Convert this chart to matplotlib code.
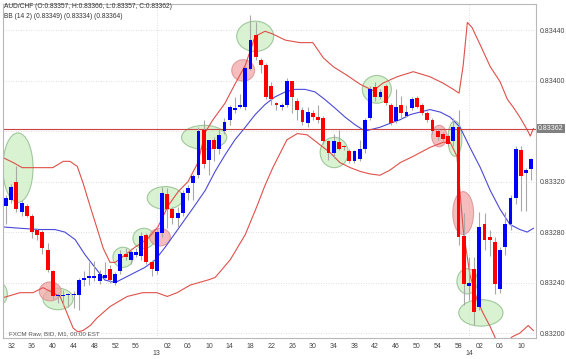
import matplotlib.pyplot as plt
import matplotlib.transforms as mtransforms
from matplotlib.patches import Ellipse
import numpy as np

plt.rcParams['font.family'] = ['Liberation Sans', 'DejaVu Sans']

# AUD/CHF M1 candles, 12:31 .. 14:12
opens = [0.83301, 0.83305, 0.83320, 0.83296, 0.83301, 0.83293, 0.83282, 0.83280, 0.83266, 0.83249,
         0.83229, 0.83229, 0.83230, 0.83230, 0.83230, 0.83242, 0.83244, 0.83244, 0.83241, 0.83244,
         0.83251, 0.83240, 0.83249, 0.83263, 0.83258, 0.83262, 0.83261, 0.83278, 0.83256, 0.83249,
         0.83279, 0.83310, 0.83298, 0.83291, 0.83295, 0.83311, 0.83319, 0.83325, 0.83361, 0.83337,
         0.83353, 0.83346, 0.83360, 0.83369, 0.83377, 0.83379, 0.83379, 0.83409, 0.83436, 0.83416,
         0.83412, 0.83396, 0.83382, 0.83379, 0.83381, 0.83400, 0.83384, 0.83377, 0.83366, 0.83374,
         0.83371, 0.83370, 0.83352, 0.83343, 0.83351, 0.83348, 0.83344, 0.83336, 0.83338, 0.83346,
         0.83370, 0.83395, 0.83387, 0.83396, 0.83381, 0.83368, 0.83381, 0.83372, 0.83378, 0.83386,
         0.83381, 0.83374, 0.83369, 0.83360, 0.83358, 0.83356, 0.83352, 0.83363, 0.83277, 0.83237,
         0.83251, 0.83221, 0.83286, 0.83276, 0.83272, 0.83235, 0.83268, 0.83286, 0.83307, 0.83345,
         0.83327, 0.83330]
highs = [0.83309, 0.83318, 0.83332, 0.83305, 0.83302, 0.83294, 0.83283, 0.83282, 0.83271, 0.83250,
         0.83232, 0.83234, 0.83232, 0.83233, 0.83244, 0.83249, 0.83256, 0.83257, 0.83250, 0.83256,
         0.83254, 0.83248, 0.83266, 0.83267, 0.83267, 0.83267, 0.83280, 0.83279, 0.83258, 0.83284,
         0.83316, 0.83315, 0.83300, 0.83300, 0.83313, 0.83317, 0.83326, 0.83363, 0.83369, 0.83353,
         0.83355, 0.83362, 0.83370, 0.83381, 0.83387, 0.83389, 0.83412, 0.83452, 0.83446, 0.83418,
         0.83414, 0.83399, 0.83383, 0.83382, 0.83402, 0.83400, 0.83386, 0.83379, 0.83379, 0.83377,
         0.83381, 0.83372, 0.83353, 0.83358, 0.83361, 0.83349, 0.83346, 0.83345, 0.83353, 0.83370,
         0.83396, 0.83399, 0.83393, 0.83397, 0.83382, 0.83393, 0.83388, 0.83381, 0.83387, 0.83388,
         0.83382, 0.83376, 0.83370, 0.83362, 0.83359, 0.83358, 0.83370, 0.83377, 0.83295, 0.83260,
         0.83260, 0.83296, 0.83295, 0.83282, 0.83276, 0.83268, 0.83296, 0.83309, 0.83348, 0.83348,
         0.83331, 0.83339]
lows = [0.83286, 0.83303, 0.83296, 0.83293, 0.83292, 0.83275, 0.83274, 0.83263, 0.83248, 0.83227,
        0.83224, 0.83222, 0.83221, 0.83220, 0.83218, 0.83237, 0.83238, 0.83241, 0.83239, 0.83243,
        0.83240, 0.83238, 0.83247, 0.83258, 0.83255, 0.83260, 0.83258, 0.83255, 0.83245, 0.83247,
        0.83276, 0.83283, 0.83286, 0.83284, 0.83293, 0.83305, 0.83305, 0.83323, 0.83331, 0.83325,
        0.83336, 0.83342, 0.83358, 0.83365, 0.83374, 0.83378, 0.83377, 0.83408, 0.83416, 0.83406,
        0.83385, 0.83381, 0.83377, 0.83377, 0.83379, 0.83374, 0.83369, 0.83365, 0.83363, 0.83369,
        0.83366, 0.83350, 0.83337, 0.83339, 0.83345, 0.83345, 0.83335, 0.83335, 0.83336, 0.83343,
        0.83369, 0.83384, 0.83385, 0.83381, 0.83365, 0.83366, 0.83370, 0.83371, 0.83377, 0.83378,
        0.83373, 0.83367, 0.83358, 0.83353, 0.83351, 0.83348, 0.83348, 0.83270, 0.83222, 0.83226,
        0.83206, 0.83218, 0.83266, 0.83261, 0.83231, 0.83232, 0.83262, 0.83282, 0.83302, 0.83297,
        0.83297, 0.83321]
closes = [0.83307, 0.83316, 0.83298, 0.83303, 0.83293, 0.83280, 0.83278, 0.83267, 0.83250, 0.83229,
          0.83230, 0.83230, 0.83231, 0.83231, 0.83242, 0.83244, 0.83245, 0.83245, 0.83247, 0.83246,
          0.83242, 0.83247, 0.83263, 0.83260, 0.83264, 0.83264, 0.83277, 0.83256, 0.83251, 0.83280,
          0.83311, 0.83298, 0.83291, 0.83295, 0.83311, 0.83315, 0.83324, 0.83360, 0.83334, 0.83353,
          0.83346, 0.83357, 0.83367, 0.83379, 0.83378, 0.83381, 0.83410, 0.83432, 0.83419, 0.83412,
          0.83387, 0.83385, 0.83381, 0.83381, 0.83400, 0.83387, 0.83377, 0.83367, 0.83375, 0.83371,
          0.83369, 0.83352, 0.83343, 0.83352, 0.83346, 0.83347, 0.83336, 0.83344, 0.83346, 0.83369,
          0.83393, 0.83387, 0.83391, 0.83382, 0.83366, 0.83379, 0.83374, 0.83375, 0.83385, 0.83379,
          0.83374, 0.83369, 0.83360, 0.83355, 0.83354, 0.83350, 0.83363, 0.83276, 0.83239, 0.83240,
          0.83217, 0.83284, 0.83274, 0.83274, 0.83239, 0.83266, 0.83286, 0.83307, 0.83346, 0.83324,
          0.83329, 0.83338]

# Bollinger bands (14, 2) at candle positions
mid_t = [-0.4, 2.7, 6.5, 9.4, 11.3, 13.3, 15.2, 17.1, 19.0, 21.0, 22.9, 24.8, 26.7, 28.7, 30.6,
         32.5, 34.4, 36.3, 38.3, 40.2, 42.1, 44.0, 46.0, 47.9, 49.8, 51.7, 53.7, 55.6, 57.5, 59.4,
         61.3, 63.3, 65.2, 67.1, 69.0, 70.0, 71.9, 73.8, 75.8, 77.7, 79.6, 81.5, 83.5, 85.4, 87.3,
         89.2, 91.2, 93.1, 95.0, 96.9, 98.8, 100.2, 101.4]
mid_v = [0.83284, 0.83283, 0.83282, 0.83282, 0.83280, 0.83274, 0.83262, 0.83252, 0.83242, 0.83240,
         0.83244, 0.83248, 0.83252, 0.83258, 0.83268, 0.83279, 0.83290, 0.83301, 0.83313, 0.83328,
         0.83341, 0.83353, 0.83363, 0.83373, 0.83381, 0.83387, 0.83391, 0.83393, 0.83393, 0.83391,
         0.83385, 0.83378, 0.83371, 0.83365, 0.83360, 0.83361, 0.83363, 0.83366, 0.83369, 0.83373,
         0.83375, 0.83377, 0.83375, 0.83371, 0.83363, 0.83347, 0.83331, 0.83313, 0.83298, 0.83286,
         0.83282, 0.83280, 0.83283]
up_t = [-0.6, 1.4, 3.1, 5.6, 9.0, 11.0, 12.3, 13.7, 14.8, 16.2, 17.5, 18.7, 20.0, 21.0, 22.3,
        24.8, 27.3, 29.2, 31.2, 33.1, 35.0, 36.9, 38.3, 39.8, 42.1, 44.0, 46.0, 47.9, 49.8, 51.2,
        53.7, 56.5, 59.0, 61.0, 62.9, 65.6, 68.1, 70.6, 72.5, 75.2, 78.3, 81.5, 84.0, 86.0, 87.1,
        87.9, 88.7, 89.6, 91.2, 93.1, 95.0, 96.4, 97.5, 98.8, 100.2, 100.8, 101.4]
up_v = [0.83339, 0.83335, 0.83331, 0.83331, 0.83331, 0.83336, 0.83336, 0.83332, 0.83319, 0.83300,
        0.83283, 0.83267, 0.83256, 0.83256, 0.83260, 0.83268, 0.83275, 0.83284, 0.83301, 0.83312,
        0.83320, 0.83335, 0.83359, 0.83369, 0.83382, 0.83397, 0.83412, 0.83435, 0.83439, 0.83437,
        0.83432, 0.83430, 0.83430, 0.83418, 0.83411, 0.83404, 0.83397, 0.83392, 0.83398, 0.83403,
        0.83407, 0.83403, 0.83398, 0.83393, 0.83390, 0.83412, 0.83446, 0.83442, 0.83428, 0.83411,
        0.83399, 0.83385, 0.83379, 0.83371, 0.83361, 0.83356, 0.83362]
low_t = [-0.6, 2.7, 5.2, 7.1, 9.0, 10.4, 11.7, 12.9, 13.8, 14.8, 16.2, 17.5, 20.0, 23.3, 26.3,
         29.0, 31.0, 32.9, 35.4, 38.8, 40.2, 43.1, 46.0, 48.3, 49.8, 51.3, 54.0, 56.0, 57.9, 60.4,
         62.3, 64.2, 66.2, 68.1, 70.0, 71.9, 73.8, 75.8, 78.3, 81.5, 84.0, 85.4, 86.7, 87.9, 89.2,
         90.6, 91.7, 93.1, 94.2, 96.0, 97.3, 98.8, 100.4, 101.4]
low_v = [0.83228, 0.83232, 0.83232, 0.83236, 0.83232, 0.83229, 0.83216, 0.83204, 0.83201, 0.83202,
         0.83206, 0.83212, 0.83221, 0.83229, 0.83232, 0.83232, 0.83229, 0.83232, 0.83238, 0.83242,
         0.83244, 0.83258, 0.83278, 0.83301, 0.83317, 0.83331, 0.83353, 0.83358, 0.83357, 0.83349,
         0.83343, 0.83335, 0.83331, 0.83328, 0.83326, 0.83325, 0.83329, 0.83335, 0.83340, 0.83347,
         0.83351, 0.83351, 0.83340, 0.83282, 0.83246, 0.83226, 0.83216, 0.83205, 0.83195, 0.83191,
         0.83197, 0.83200, 0.83206, 0.83202]

price_line = 0.83362
yticks = [0.83200, 0.83240, 0.83280, 0.83320, 0.83360, 0.83400, 0.83440]
tick_idx = [1, 5, 9, 13, 17, 21, 25, 31, 35, 39, 43, 47, 51, 55, 59, 63, 67, 71, 75, 79, 83, 87, 91, 95, 99]
tick_labels = ['32', '36', '40', '44', '48', '52', '56', '02', '06', '10', '14', '18', '22', '26', '30',
               '34', '38', '42', '46', '50', '54', '58', '02', '06', '10']
hour_idx = [29, 89]
hour_labels = ['13', '14']

# marker ellipses: (x, y, width, height, kind)
marks = [(2.3, 0.83331, 5.8, 0.00055, 'g'), (-1.7, 0.83231, 3.9, 0.00019, 'g'),
         (10.0, 0.83227, 5.8, 0.00017, 'g'), (8.5, 0.83233, 4.2, 0.00015, 'r'),
         (22.5, 0.83260, 3.9, 0.00016, 'g'), (26.5, 0.83275, 4.2, 0.00016, 'g'),
         (29.6, 0.83276, 4.0, 0.00014, 'r'), (30.6, 0.83307, 6.9, 0.00018, 'g'),
         (38.1, 0.83355, 8.7, 0.00019, 'g'), (45.6, 0.83408, 4.4, 0.00017, 'r'),
         (47.9, 0.83435, 7.1, 0.00024, 'g'), (63.1, 0.83343, 5.4, 0.00024, 'g'),
         (71.3, 0.83393, 5.6, 0.00022, 'g'), (83.3, 0.83356, 2.9, 0.00017, 'r'),
         (86.3, 0.83354, 2.7, 0.00028, 'g'), (87.9, 0.83295, 4.0, 0.00034, 'r'),
         (88.7, 0.83241, 4.0, 0.00020, 'g'), (91.3, 0.83216, 8.5, 0.00021, 'g')]

W, H = 566, 359
fig = plt.figure(figsize=(W / 100, H / 100), dpi=100)
ax = fig.add_axes([3 / W, 21 / H, 533 / W, 334 / H])

o = np.array(opens)
c = np.array(closes)
x = np.arange(len(o))
up = c >= o

# grid
for yv in yticks:
    ax.axhline(yv, color='#d4d4d4', lw=0.6, ls=(0, (1, 2)), zorder=0)
for hi in hour_idx:
    ax.axvline(hi, color='#d4d4d4', lw=0.6, ls=(0, (1, 2)), zorder=0)

# ellipses
for ex, ey, ew, eh, kind in marks:
    if kind == 'g':
        fc, ec = '#cdeec4', '#86b882'
    else:
        fc, ec = '#f2a7a7', '#d98a8a'
    ax.add_patch(Ellipse((ex, ey), ew, eh, facecolor=fc, edgecolor=ec, lw=0.8, alpha=0.75, zorder=1))

# bands
ax.plot(up_t, up_v, color='#e0504a', lw=0.8, zorder=2)
ax.plot(low_t, low_v, color='#e0504a', lw=0.8, zorder=2)
ax.plot(mid_t, mid_v, color='#4a4ad8', lw=0.8, zorder=2)

ax.axhline(price_line, color='#cc4444', lw=0.8, zorder=2)

# candles
ax.vlines(x, lows, highs, color='#a8a8a8', lw=0.8, zorder=3)
body_lo = np.minimum(o, c)
body_h = np.maximum(np.abs(c - o), 0.000012)
ax.bar(x[up], body_h[up], bottom=body_lo[up], width=0.75, color='#0000ff', zorder=4)
ax.bar(x[~up], body_h[~up], bottom=body_lo[~up], width=0.75, color='#ff0000', zorder=4)

ax.set_xlim(-0.58, 101.9)
ax.set_ylim(0.831961, 0.834606)

ax.yaxis.tick_right()
ax.set_yticks([t for t in yticks if t != 0.83360])
ax.set_yticklabels(['%.5f' % t for t in yticks if t != 0.83360])
ax.set_xticks(tick_idx)
ax.set_xticklabels(tick_labels)
ax.tick_params(axis='both', length=0, labelsize=5, colors='#444444')
ax.tick_params(axis='x', pad=3.5)
ax.tick_params(axis='y', pad=3)
for s in ax.spines.values():
    s.set_color('#b8b8b8')
    s.set_linewidth(0.8)

trans = mtransforms.blended_transform_factory(ax.transData, ax.transAxes)
for hi, hl in zip(hour_idx, hour_labels):
    ax.text(hi, -0.047, hl, transform=trans, ha='center', va='center', fontsize=5, color='#444444')

trans_y = mtransforms.blended_transform_factory(ax.transAxes, ax.transData)
ax.text(1.004, price_line, '%.5f' % price_line, transform=trans_y, ha='left', va='center',
        fontsize=5, color='white', bbox=dict(facecolor='#808080', edgecolor='none', pad=1.0))

fig.text(4 / W, 1 - 7 / H, 'AUD/CHF (O:0.83357, H:0.83366, L:0.83357, C:0.83362)',
         fontsize=4.8, color='#333333', va='center')
fig.text(4 / W, 1 - 16 / H, 'BB (14 2) (0.83349) (0.83334) (0.83364)',
         fontsize=4.8, color='#333333', va='center')
fig.text(9 / W, 1 - 334 / H, 'FXCM Raw, BID, M1, 00:00 EST',
         fontsize=4.5, color='#555555', va='center')

fig.savefig('out.png', dpi=100)
